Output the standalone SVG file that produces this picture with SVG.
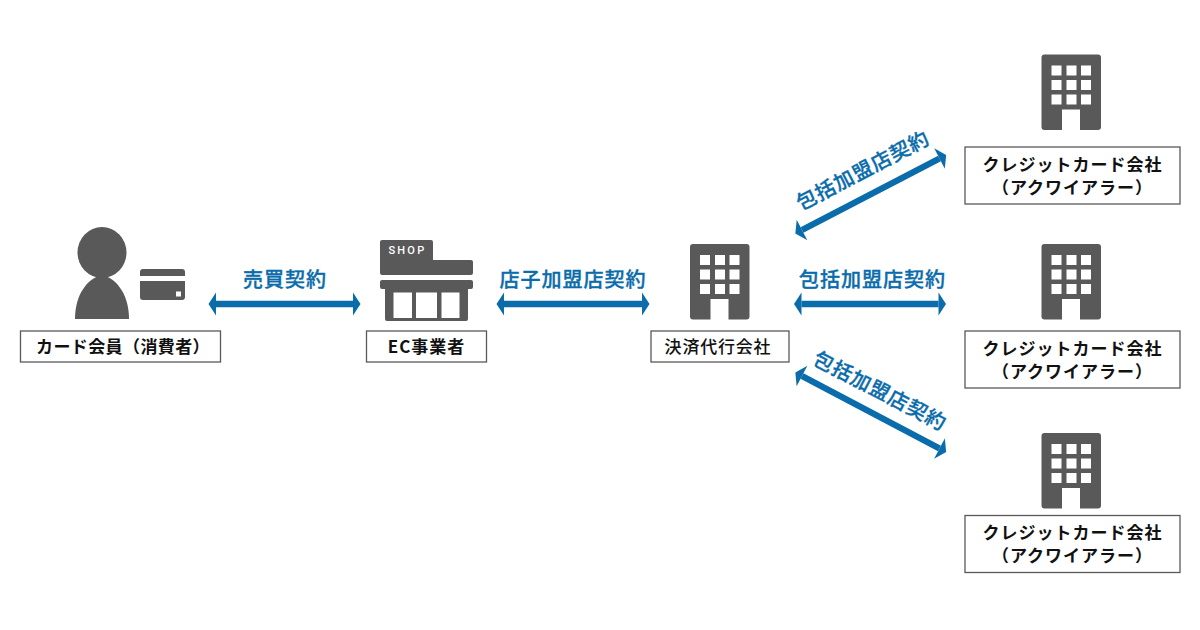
<svg xmlns="http://www.w3.org/2000/svg" xmlns:xlink="http://www.w3.org/1999/xlink" width="1200" height="630" viewBox="0 0 1200 630">
<style>
.box{fill:#fff;stroke:#595959;stroke-width:1.3}
.lb{font-family:"Noto Sans CJK JP","Noto Sans",sans-serif;font-weight:700;font-size:17px;fill:#111;text-anchor:middle;letter-spacing:1px}
.ct{font-family:"Noto Sans CJK JP","Noto Sans",sans-serif;font-weight:500;font-size:20px;fill:#0a6cab;stroke:#0a6cab;stroke-width:.35;text-anchor:middle;letter-spacing:1px}
.ar{fill:none;stroke:#0a6cab;stroke-width:6.400;marker-start:url(#h);marker-end:url(#h)}
.dk{fill:#595959}
.wh{fill:#fff}
</style>
<defs>
<marker id="h" markerUnits="userSpaceOnUse" markerWidth="12" markerHeight="26" refX="3" refY="13" orient="auto-start-reverse" viewBox="0 0 12 26">
<path d="M10.500 13L3 1.500V24.500Z" fill="#0a6cab"/>
</marker>
<g id="bld">
<path class="dk" d="M3 0H56.500Q59.500 0 59.500 3V72.500Q59.500 75.500 56.500 75.500H38.500V55H20.500V75.500H3Q0 75.500 0 72.500V3Q0 0 3 0Z"/>
<path class="wh" d="M10 11h10v10h-10zM25 11h10v10h-10zM39.500 11h10v10h-10zM10 25.500h10v10h-10zM25 25.500h10v10h-10zM39.500 25.500h10v10h-10zM10 40h10v10h-10zM25 40h10v10h-10zM39.500 40h10v10h-10z"/>
</g>
</defs>
<rect width="1200" height="630" fill="#fff"/>
<g id="connectors">
<line class="ar" x1="216" y1="304" x2="353" y2="304"/>
<line class="ar" x1="504" y1="304" x2="642" y2="304"/>
<line class="ar" x1="801.500" y1="304" x2="938.500" y2="304"/>
<line class="ar" x1="802" y1="230" x2="939.500" y2="158.500"/>
<line class="ar" x1="802" y1="376" x2="939.500" y2="448.500"/>
</g>
<g id="label-uriage"><text class="ct" x="285" y="286.500">売買契約</text></g>
<g id="label-tenshi"><text class="ct" x="573" y="286.500">店子加盟店契約</text></g>
<g id="label-hokatsu-mid"><text class="ct" x="872.500" y="286.500">包括加盟店契約</text></g>
<g id="label-hokatsu-top"><text class="ct" transform="translate(863 170.500) rotate(-27.500)" x="0" y="7">包括加盟店契約</text></g>
<g id="label-hokatsu-bot"><text class="ct" transform="translate(880 391) rotate(27.500)" x="0" y="7">包括加盟店契約</text></g>
<g id="member">
<ellipse class="dk" cx="102" cy="252.500" rx="24.500" ry="25.500"/>
<path class="dk" d="M102 275C118 279 129 296 129 319H75C75 296 86 279 102 275Z"/>
<path class="dk" d="M143 269H182Q185 269 185 272V276H140V272Q140 269 143 269ZM140 281H185V297Q185 300 182 300H143Q140 300 140 297Z"/>
<rect class="wh" x="176" y="291.500" width="5" height="5"/>
<rect class="box" x="20.500" y="331" width="200" height="31"/>
<text class="lb" x="123" y="352.500" style="letter-spacing:0.400px">カード会員（消費者）</text>
</g>
<g id="ec">
<path class="dk" d="M382 240H431Q433 240 433 242V260H471Q473 260 473 262V273Q473 275 471 275H382Q380 275 380 273V242Q380 240 382 240Z"/>
<path class="dk" d="M382 280H471Q473 280 473 282V287Q473 289 471 289H468V319Q468 321 466 321H387Q385 321 385 319V289H382Q380 289 380 287V282Q380 280 382 280Z"/>
<path class="wh" d="M393.500 292.500H412V318H393.500ZM416 292.500H437V318H416ZM441.500 292.500H459.500V318H441.500Z"/>
<text x="388.500" y="254" font-family="Roboto,'Noto Sans',sans-serif" font-weight="500" font-size="11px" letter-spacing="2.200" fill="#fff">SHOP</text>
<rect class="box" x="366.500" y="331" width="120" height="31"/>
<text class="lb" x="426.500" y="352.500">EC事業者</text>
</g>
<g id="psp">
<use href="#bld" x="690" y="244"/>
<rect class="box" x="651" y="331" width="138" height="31"/>
<text class="lb" x="718" y="353" style="font-weight:500;letter-spacing:.8px">決済代行会社</text>
</g>
<g id="acq-1">
<use href="#bld" x="1041.500" y="54.500"/>
<rect class="box" x="965" y="147" width="215" height="57"/>
<text class="lb" x="1072.500" y="170.500">クレジットカード会社</text>
<text class="lb" x="1072.500" y="193.500">（アクワイアラー）</text>
</g>
<g id="acq-2">
<use href="#bld" x="1041.500" y="244"/>
<rect class="box" x="965" y="331" width="215" height="57"/>
<text class="lb" x="1072.500" y="354.500">クレジットカード会社</text>
<text class="lb" x="1072.500" y="377.500">（アクワイアラー）</text>
</g>
<g id="acq-3">
<use href="#bld" x="1041.500" y="433"/>
<rect class="box" x="965" y="515.500" width="215" height="57"/>
<text class="lb" x="1072.500" y="539">クレジットカード会社</text>
<text class="lb" x="1072.500" y="562">（アクワイアラー）</text>
</g>
</svg>
